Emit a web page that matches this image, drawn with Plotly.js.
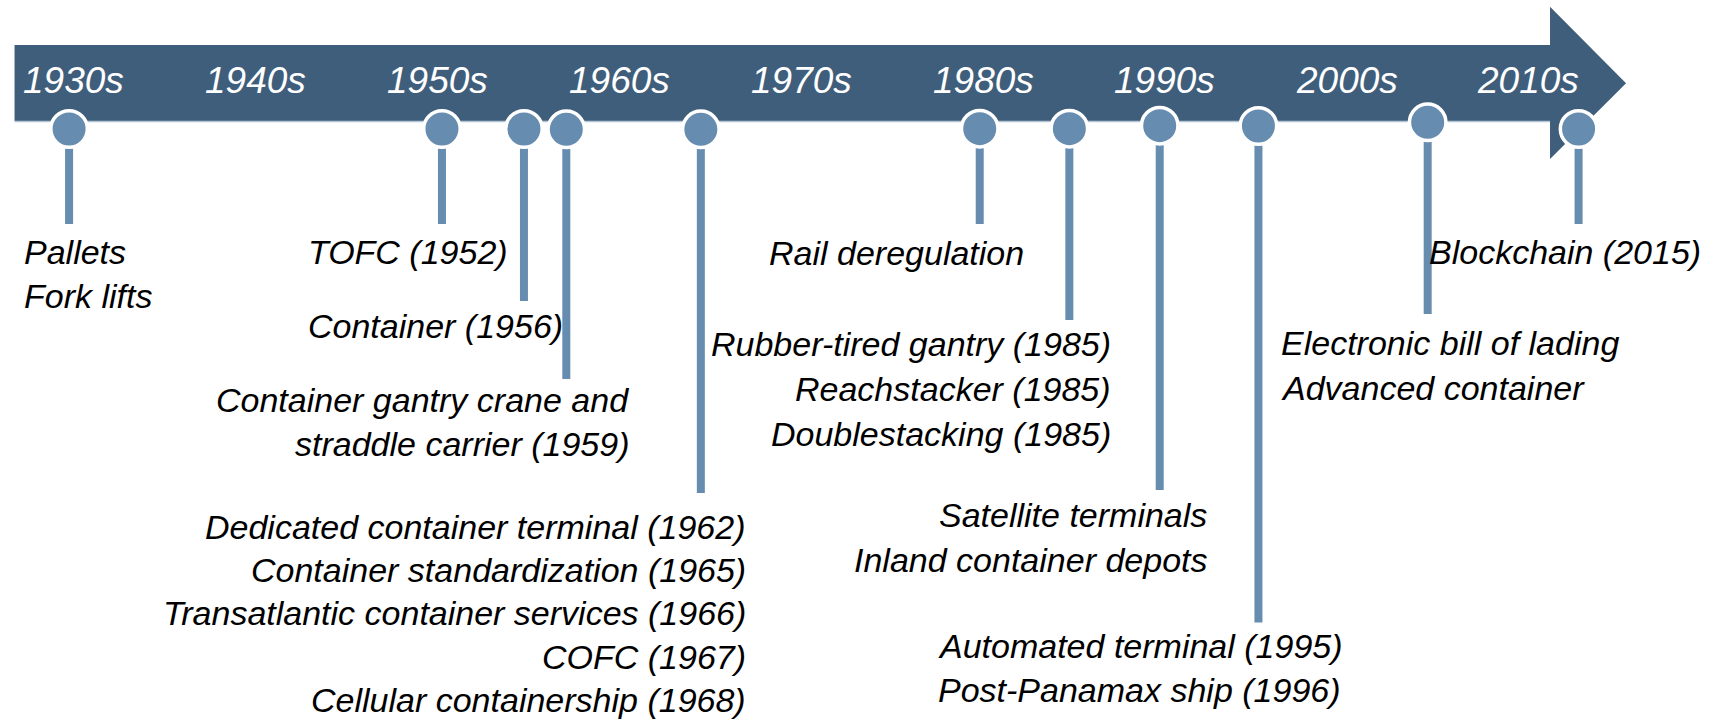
<!DOCTYPE html>
<html>
<head>
<meta charset="utf-8">
<script src="https://cdn.plot.ly/plotly-3.0.1.min.js"></script>
<style>
  html, body { margin: 0; padding: 0; background: #ffffff; }
  #chart { width: 1711px; height: 721px; }
</style>
</head>
<body>
<div id="chart"></div>
<script>
// ---- Data ----
const decadeLabels = ['1930s', '1940s', '1950s', '1960s', '1970s', '1980s', '1990s', '2000s', '2010s'];
const decadeYears  = [1930, 1940, 1950, 1960, 1970, 1980, 1990, 2000, 2010];

// position of each milestone marker along the timeline (in years)
const markerYear  = [1929.73, 1950.24, 1954.75, 1957.08, 1964.48, 1979.82, 1984.75, 1989.72, 1995.15, 2004.46, 2012.76];
// vertical level of each marker and end of its stem (pixel rows from top)
const markerLevel = [129, 129, 129, 129.3, 129.3, 128.7, 128.7, 125.7, 126, 122.3, 129];
const stemEnd     = [224, 224, 301, 379, 493, 224, 320, 490, 622.5, 314, 224];

// milestone texts (one entry per marker, lines split by \n)
const eventText = [
  'Pallets\nFork lifts',
  'TOFC (1952)',
  'Container (1956)',
  'Container gantry crane and\nstraddle carrier (1959)',
  'Dedicated container terminal (1962)\nContainer standardization (1965)\nTransatlantic container services (1966)\nCOFC (1967)\nCellular containership (1968)',
  'Rail deregulation',
  'Rubber-tired gantry (1985)\nReachstacker (1985)\nDoublestacking (1985)',
  'Satellite terminals\nInland container depots',
  'Automated terminal (1995)\nPost-Panamax ship (1996)',
  'Electronic bill of lading\nAdvanced container',
  'Blockchain (2015)'
];

// ---- Layout of the texts ----
const textX      = [1927.18, 1942.80, 1942.80, 1960.56, 1967.00, 1968.19, 1987.08, 1992.39, 1977.45, 1996.34, 2019.55];
const textAnchor = ['left', 'left', 'left', 'right', 'right', 'left', 'right', 'right', 'left', 'left', 'right'];
const textY      = [251.7, 251.7, 326, 399.7, 526.7, 253, 343.5, 515, 645.8, 343.3, 251.7];
const textGap    = [43.8, 44, 44, 43.8, 43.3, 44, 45.3, 45, 43.7, 45, 44];

const BAR = '#3f5e7b';
const DOT = '#668cb0';
const FONT = '"Liberation Sans", Arial, sans-serif';

// stems
const stemX = [], stemY = [];
markerYear.forEach((yr, i) => {
  stemX.push(yr, yr, null);
  stemY.push(markerLevel[i], stemEnd[i], null);
});

const traces = [
  {
    type: 'scatter', mode: 'lines', x: stemX, y: stemY,
    line: { color: DOT, width: 8 }, hoverinfo: 'skip', showlegend: false
  },
  {
    type: 'scatter', mode: 'markers', x: markerYear, y: markerLevel,
    marker: { size: 36.5, color: DOT, line: { color: '#ffffff', width: 3.5 } },
    hoverinfo: 'skip', showlegend: false
  }
];

const annotations = [];
decadeLabels.forEach((lab, i) => {
  annotations.push({
    x: decadeYears[i], y: 80, xref: 'x', yref: 'y', text: lab, showarrow: false,
    xanchor: 'center', yanchor: 'middle', borderpad: 0,
    font: { family: FONT, size: 37, color: '#ffffff', style: 'italic' }
  });
});
eventText.forEach((txt, i) => {
  txt.split('\n').forEach((line, j) => {
    annotations.push({
      x: textX[i], y: textY[i] + j * textGap[i], xref: 'x', yref: 'y',
      text: line, showarrow: false, xanchor: textAnchor[i], yanchor: 'middle',
      borderpad: 0,
      font: { family: FONT, size: 34, color: '#000000', style: 'italic' }
    });
  });
});

// arrow band (timeline)
const x0 = 1926.73, xb = 2011.19, xt = 2015.37;
const shapes = [
  {
    type: 'path', xref: 'x', yref: 'y', layer: 'below',
    path: `M ${x0},45 L ${xb},45 L ${xb},6.7 L ${xt},83.3 L ${xb},159 L ${xb},121 L ${x0},121 Z`,
    fillcolor: BAR, line: { width: 0 }
  },
  {
    type: 'line', xref: 'x', yref: 'y', layer: 'below',
    x0: x0, x1: xb, y0: 121.5, y1: 121.5,
    line: { color: '#b4c6d6', width: 1.5 }
  }
];

const layout = {
  width: 1711, height: 721,
  margin: { l: 0, r: 0, t: 0, b: 0, pad: 0 },
  paper_bgcolor: '#ffffff', plot_bgcolor: '#ffffff',
  xaxis: { range: [1925.93, 2020.044], visible: false, fixedrange: true },
  yaxis: { range: [721, 0], visible: false, fixedrange: true },
  shapes: shapes,
  annotations: annotations,
  showlegend: false
};

Plotly.newPlot('chart', traces, layout, { staticPlot: true, displayModeBar: false });
</script>
</body>
</html>
